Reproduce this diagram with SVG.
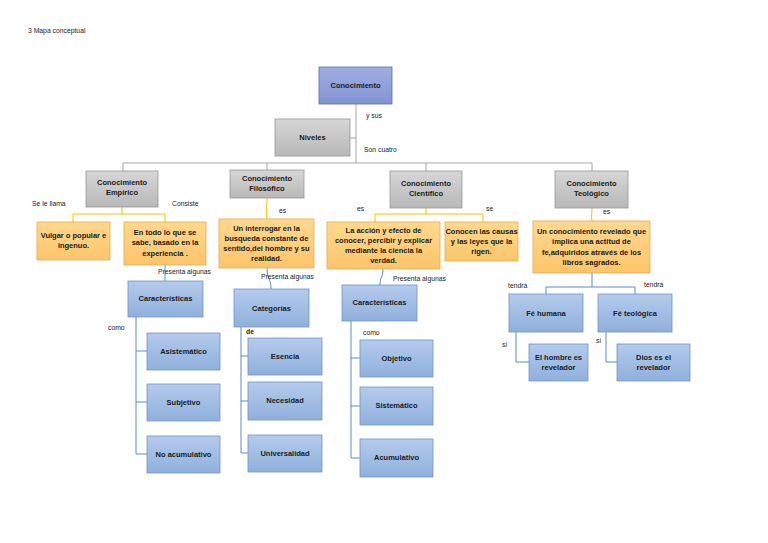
<svg xmlns="http://www.w3.org/2000/svg" width="768" height="543" viewBox="0 0 768 543">
<defs>
<linearGradient id="gBlue" x1="0" y1="0" x2="0" y2="1"><stop offset="0" stop-color="#b4cbec"/><stop offset="1" stop-color="#8fb0dc"/></linearGradient>
<linearGradient id="gTop" x1="0" y1="0" x2="0" y2="1"><stop offset="0" stop-color="#9eaee2"/><stop offset="1" stop-color="#8394d3"/></linearGradient>
<linearGradient id="gGray" x1="0" y1="0" x2="0" y2="1"><stop offset="0" stop-color="#d6d6d6"/><stop offset="1" stop-color="#b8b8b8"/></linearGradient>
<linearGradient id="gOr" x1="0" y1="0" x2="0" y2="1"><stop offset="0" stop-color="#ffd88f"/><stop offset="1" stop-color="#fcc56a"/></linearGradient>
</defs>
<style>
.blue{fill:url(#gBlue);stroke:#7393c4;stroke-width:0.8}
.top{fill:url(#gTop);stroke:#5d6db0;stroke-width:0.8}
.gray{fill:url(#gGray);stroke:#979797;stroke-width:0.8}
.or{fill:url(#gOr);stroke:#e4ac4c;stroke-width:0.8}
.t{font-family:"Liberation Sans",Arial,sans-serif;font-size:7.5px;font-weight:bold;fill:#1a1a1a;text-anchor:middle}
.l{font-family:"Liberation Sans",Arial,sans-serif;font-size:6.8px;fill:#1a1a1a}
.cg{fill:none;stroke:#a6a6a6;stroke-width:1}
.cy{fill:none;stroke:#f2c200;stroke-width:1}
.cb{fill:none;stroke:#5b8bc9;stroke-width:1}
</style>
<rect width="768" height="543" fill="#ffffff"/>
<text class="l" x="28" y="33">3 Mapa conceptual</text>

<g id="connectors">
<path class="cg" d="M356,104 V163 M350,138 H356 M123,163 H592 M123,163 V171 M267,163 V170 M426,163 V171 M592,163 V171"/>
<path class="cy" d="M122,207 V214 M73,214 H165 M73,214 V222 M165,214 V222"/>
<path class="cy" d="M267,198 C267,206 266,210 267,219"/>
<path class="cy" d="M426,208 V214 M375,214 H483 M375,214 V222 M483,214 V222"/>
<path class="cy" d="M592,208 C592,214 591,216 592,221"/>
<path class="cb" d="M165,265 V281"/>
<path class="cb" d="M267,268 C267,280 271,278 271,289"/>
<path class="cb" d="M383,269 C383,278 380,276 380,285"/>
<path class="cb" d="M592,273 V287 M546,287 H635 M546,287 V294 M635,287 V294"/>
<path class="cb" d="M136,317 V454 M136,351 H147 M136,402 H147 M136,454 H147"/>
<path class="cb" d="M241,327 V453 M241,356 H248 M241,401 H248 M241,453 H248"/>
<path class="cb" d="M351,321 V458 M351,358 H360 M351,406 H360 M351,458 H360"/>
<path class="cb" d="M516,332 V362 H529 M606,332 V362 H617"/>
</g>

<g id="labels">
<text class="l" x="366" y="118">y sus</text>
<text class="l" x="364" y="152">Son cuatro</text>
<text class="l" x="32" y="206">Se le llama</text>
<text class="l" x="172" y="206">Consiste</text>
<text class="l" x="279" y="213">es</text>
<text class="l" x="357" y="211">es</text>
<text class="l" x="486" y="211">se</text>
<text class="l" x="603" y="214">es</text>
<text class="l" x="158" y="274">Presenta algunas</text>
<text class="l" x="261" y="279">Presenta algunas</text>
<text class="l" x="393" y="281">Presenta algunas</text>
<text class="l" x="508" y="288">tendrá</text>
<text class="l" x="644" y="287">tendrá</text>
<text class="l" x="108" y="330">como</text>
<text class="l" x="246" y="334" style="font-weight:bold">de</text>
<text class="l" x="363" y="335">como</text>
<text class="l" x="502" y="347">si</text>
<text class="l" x="596" y="343">si</text>
</g>

<g id="n-conocimiento"><rect class="top" x="319" y="67" width="73" height="37"/><text class="t" x="355.5" y="88">Conocimiento</text></g>
<g id="n-niveles"><rect class="gray" x="275" y="119" width="75" height="37"/><text class="t" x="312.5" y="140">Niveles</text></g>

<g id="n-empirico"><rect class="gray" x="86" y="171" width="72" height="36"/><text class="t" x="122" y="185">Conocimiento</text><text class="t" x="122" y="195">Empírico</text></g>
<g id="n-filosofico"><rect class="gray" x="230" y="170" width="74" height="28"/><text class="t" x="267" y="181">Conocimiento</text><text class="t" x="267" y="191">Filosófico</text></g>
<g id="n-cientifico"><rect class="gray" x="390" y="171" width="72" height="37"/><text class="t" x="426" y="186">Conocimiento</text><text class="t" x="426" y="196">Científico</text></g>
<g id="n-teologico"><rect class="gray" x="555" y="171" width="73" height="37"/><text class="t" x="591.5" y="186">Conocimiento</text><text class="t" x="591.5" y="196">Teológico</text></g>

<g id="n-vulgar"><rect class="or" x="37" y="222" width="73" height="38"/><text class="t" x="73.5" y="238">Vulgar o popular e</text><text class="t" x="73.5" y="248">ingenuo.</text></g>
<g id="n-entodo"><rect class="or" x="124" y="222" width="82" height="43"/><text class="t" x="165" y="235">En todo lo que se</text><text class="t" x="165" y="245">sabe, basado en la</text><text class="t" x="165" y="256">experiencia .</text></g>
<g id="n-interrogar"><rect class="or" x="219" y="219" width="95" height="49"/><text class="t" x="266.5" y="231">Un interrogar en la</text><text class="t" x="266.5" y="241">busqueda constante de</text><text class="t" x="266.5" y="251">sentido,del hombre y su</text><text class="t" x="266.5" y="261">realidad.</text></g>
<g id="n-accion"><rect class="or" x="327" y="222" width="113" height="47"/><text class="t" x="383.5" y="233">La acción y efecto de</text><text class="t" x="383.5" y="243">conocer, percibir y explicar</text><text class="t" x="383.5" y="253">mediante la ciencia la</text><text class="t" x="383.5" y="263">verdad.</text></g>
<g id="n-conocen"><rect class="or" x="445" y="222" width="73" height="39"/><text class="t" x="481.5" y="234">Conocen las causas</text><text class="t" x="481.5" y="244">y las leyes que la</text><text class="t" x="481.5" y="254">rigen.</text></g>
<g id="n-revelado"><rect class="or" x="533" y="221" width="117" height="52"/><text class="t" x="591.5" y="234">Un conocimiento revelado que</text><text class="t" x="591.5" y="244">implica una actitud de</text><text class="t" x="591.5" y="255">fe,adquiridos através de los</text><text class="t" x="591.5" y="265">libros sagrados.</text></g>

<g id="n-caract1"><rect class="blue" x="128" y="281" width="75" height="36"/><text class="t" x="165.5" y="301">Características</text></g>
<g id="n-categorias"><rect class="blue" x="234" y="289" width="75" height="38"/><text class="t" x="271.5" y="311">Categorías</text></g>
<g id="n-caract2"><rect class="blue" x="342" y="285" width="75" height="36"/><text class="t" x="379.5" y="305">Características</text></g>
<g id="n-fehumana"><rect class="blue" x="509" y="294" width="74" height="38"/><text class="t" x="546" y="316">Fé humana</text></g>
<g id="n-feteologica"><rect class="blue" x="598" y="294" width="74" height="38"/><text class="t" x="635" y="316">Fé teológica</text></g>

<g id="n-asistematico"><rect class="blue" x="147" y="333" width="73" height="37"/><text class="t" x="183.5" y="354">Asistemático</text></g>
<g id="n-subjetivo"><rect class="blue" x="147" y="384" width="73" height="37"/><text class="t" x="183.5" y="405">Subjetivo</text></g>
<g id="n-noacumulativo"><rect class="blue" x="147" y="436" width="73" height="37"/><text class="t" x="183.5" y="457">No acumulativo</text></g>

<g id="n-esencia"><rect class="blue" x="248" y="338" width="74" height="37"/><text class="t" x="285" y="359">Esencia</text></g>
<g id="n-necesidad"><rect class="blue" x="248" y="382" width="74" height="38"/><text class="t" x="285" y="403">Necesidad</text></g>
<g id="n-universalidad"><rect class="blue" x="248" y="435" width="74" height="37"/><text class="t" x="285" y="456">Universalidad</text></g>

<g id="n-objetivo"><rect class="blue" x="360" y="340" width="73" height="37"/><text class="t" x="396.5" y="361">Objetivo</text></g>
<g id="n-sistematico"><rect class="blue" x="360" y="387" width="73" height="38"/><text class="t" x="396.5" y="408">Sistemático</text></g>
<g id="n-acumulativo"><rect class="blue" x="360" y="439" width="73" height="38"/><text class="t" x="396.5" y="460">Acumulativo</text></g>

<g id="n-hombre"><rect class="blue" x="529" y="344" width="59" height="37"/><text class="t" x="558.5" y="360">El hombre es</text><text class="t" x="558.5" y="370">revelador</text></g>
<g id="n-dios"><rect class="blue" x="617" y="344" width="73" height="37"/><text class="t" x="653.5" y="360">Dios es el</text><text class="t" x="653.5" y="370">revelador</text></g>
</svg>
